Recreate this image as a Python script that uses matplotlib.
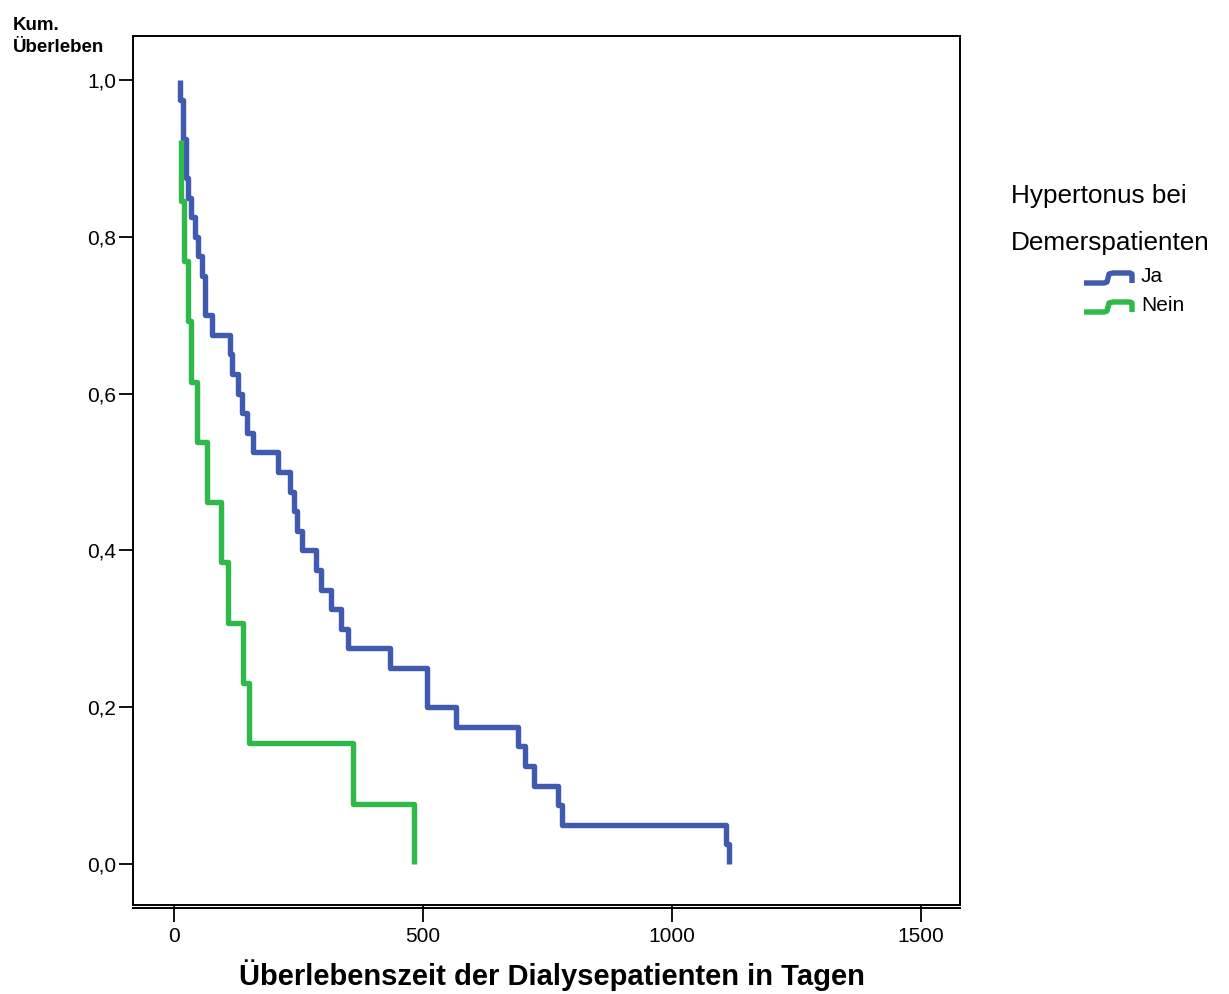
import matplotlib
matplotlib.use("Agg")
import matplotlib.pyplot as plt
from matplotlib.lines import Line2D
from matplotlib.ticker import FuncFormatter, FixedLocator

plt.rcParams['font.family'] = ['Liberation Sans', 'DejaVu Sans']

# Kaplan-Meier step data (time in days, cumulative survival after event)
ja_times = [12, 12, 18, 24, 28, 34, 42, 48, 56, 62, 77, 113, 117, 129, 137, 147, 159,
            209, 233, 241, 247, 256, 284, 294, 316, 336, 350, 433, 507, 567, 690, 704,
            722, 771, 779, 1109, 1115]
ja_surv = [1.0, 0.975, 0.925, 0.875, 0.85, 0.825, 0.8, 0.775, 0.75, 0.70, 0.675, 0.65,
           0.625, 0.6, 0.575, 0.55, 0.525, 0.5, 0.475, 0.45, 0.425, 0.4, 0.375, 0.35,
           0.325, 0.3, 0.275, 0.25, 0.2, 0.175, 0.15, 0.125, 0.1, 0.075, 0.05, 0.025, 0.0]

nein_times = [14, 14, 20, 28, 34, 46, 66, 95, 109, 139, 151, 360, 481]
nein_surv = [0.923, 0.846, 0.769, 0.692, 0.615, 0.538, 0.462, 0.385, 0.308, 0.231,
             0.154, 0.077, 0.0]

x_ticks = [0, 500, 1000, 1500]
y_ticks = [0.0, 0.2, 0.4, 0.6, 0.8, 1.0]

series_names = ["Ja", "Nein"]
BLUE = "#3F5AAE"
GREEN = "#30B94B"

W, H = 1229, 994
fig = plt.figure(figsize=(W / 100, H / 100), dpi=100)
L, R, T, B = 133, 960, 36, 905
ax = fig.add_axes([L / W, 1 - B / H, (R - L) / W, (B - T) / H])

lw = 3.9
ax.plot(ja_times, ja_surv, drawstyle='steps-post', color=BLUE, lw=lw,
        solid_joinstyle='round', solid_capstyle='butt')
ax.plot(nein_times, nein_surv, drawstyle='steps-post', color=GREEN, lw=lw,
        solid_joinstyle='round', solid_capstyle='butt')

ax.set_xlim(-82.5, 1578)
ax.set_ylim((864 - B) / 784, (864 - T) / 784)

ax.xaxis.set_major_locator(FixedLocator(x_ticks))
ax.yaxis.set_major_locator(FixedLocator(y_ticks))
ax.yaxis.set_major_formatter(FuncFormatter(lambda v, p: f"{v:.1f}".replace('.', ',')))
ax.xaxis.set_major_formatter(FuncFormatter(lambda v, p: f"{int(v)}"))

for s in ax.spines.values():
    s.set_linewidth(1.4)
    s.set_color('black')

ax.tick_params(axis='y', direction='out', length=10, width=1.3, labelsize=15, pad=2)
ax.tick_params(axis='x', direction='out', length=12.5, width=1.3, labelsize=15, pad=3)

# double bottom axis line
ax.add_artist(Line2D([0, 1], [-3.2 / (B - T), -3.2 / (B - T)], transform=ax.transAxes,
                     color='black', lw=1.4, clip_on=False))

# axis labels
fig.text(552 / W, 1 - 975 / H, "Überlebenszeit der Dialysepatienten in Tagen",
         ha='center', va='center', fontsize=21, fontweight='bold')
fig.text(13 / W, 1 - 26 / H, "Kum.", ha='left', va='center', fontsize=13.5, fontweight='bold')
fig.text(13 / W, 1 - 48 / H, "Überleben", ha='left', va='center', fontsize=13.5, fontweight='bold')

# legend
fig.text(1011 / W, 1 - 196 / H, "Hypertonus bei", ha='left', va='center', fontsize=18.8)
fig.text(1011 / W, 1 - 243 / H, "Demerspatienten", ha='left', va='center', fontsize=18.8)

def legend_icon(yc, color):
    xs = [1084, 1104, 1107, 1109, 1113, 1130, 1132, 1132]
    ys = [yc + 5, yc + 5, yc + 4, yc - 4, yc - 5, yc - 5, yc - 4, yc + 5]
    fig.add_artist(Line2D([x / W for x in xs], [1 - y / H for y in ys],
                          transform=fig.transFigure, color=color, lw=lw,
                          solid_joinstyle='round', solid_capstyle='butt'))

for name, color, yc, ty in zip(series_names, [BLUE, GREEN], [278, 307], [277, 305]):
    legend_icon(yc, color)
    fig.text(1141 / W, 1 - ty / H, name, ha='left', va='center', fontsize=15)

fig.savefig("out.png", dpi=100)
